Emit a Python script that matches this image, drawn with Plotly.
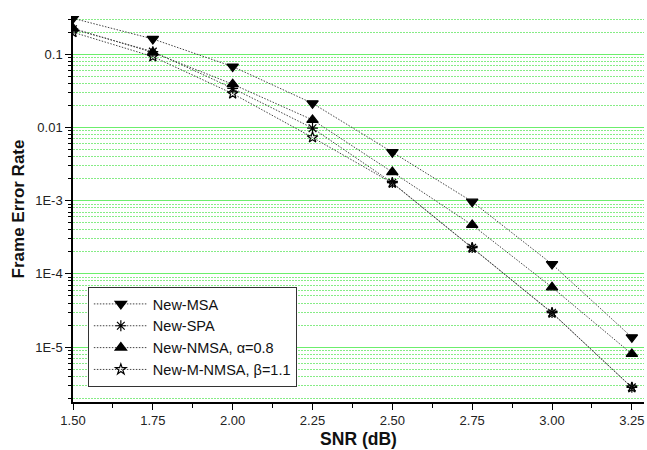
import plotly.graph_objects as go

snr = [1.50, 1.75, 2.00, 2.25, 2.50, 2.75, 3.00, 3.25]
msa = [0.31, 0.162, 0.068, 0.0214, 0.0046, 9.7e-4, 1.36e-4, 1.36e-5]
spa = [0.22, 0.109, 0.0343, 0.0098, 1.76e-3, 2.28e-4, 2.95e-5, 2.82e-6]
nmsa = [0.226, 0.106, 0.039, 0.0127, 2.46e-3, 4.66e-4, 6.56e-5, 8.05e-6]
mnmsa = [0.20, 0.093, 0.029, 0.0073, 1.74e-3, 2.26e-4, 2.93e-5, 2.80e-6]

names = ["New-MSA", "New-SPA", "New-NMSA, α=0.8", "New-M-NMSA, β=1.1"]
symbols = ["triangle-down", "asterisk-open", "triangle-up", "star-open"]
sizes = [10, 9, 10, 8]
series = [msa, spa, nmsa, mnmsa]

xticks = [1.50, 1.75, 2.00, 2.25, 2.50, 2.75, 3.00, 3.25]
xticklabels = ["1.50", "1.75", "2.00", "2.25", "2.50", "2.75", "3.00", "3.25"]
yticks = [0.1, 0.01, 1e-3, 1e-4, 1e-5]
yticklabels = ["0.1", "0.01", "1E-3", "1E-4", "1E-5"]

fig = go.Figure()
for i in range(4):
    fig.add_trace(go.Scatter(
        x=snr, y=series[i], name=names[i], mode="lines+markers",
        line=dict(color="#444444", width=1, dash="1.5px,1.5px"),
        marker=dict(symbol=symbols[i], size=sizes[i], color="black",
                    line=dict(color="black", width=1.2)),
    ))

axis_font = dict(family="Arial, Liberation Sans, sans-serif", size=13, color="#222222")
fig.update_layout(
    width=647, height=450,
    margin=dict(l=73, r=3, t=16, b=48),
    paper_bgcolor="white", plot_bgcolor="white",
    font=dict(family="Arial, Liberation Sans, sans-serif", color="#222222"),
    showlegend=True,
    legend=dict(x=0.026, y=0.298, xanchor="left", yanchor="top",
                bgcolor="white", bordercolor="#333333", borderwidth=1,
                font=dict(size=14.5, family="Arial, Liberation Sans, sans-serif", color="#111111"),
                tracegroupgap=0, itemwidth=54),
    xaxis=dict(range=[1.5, 3.288], tickvals=xticks, ticktext=xticklabels,
               ticks="outside", ticklen=6, tickcolor="black", showline=True,
               linecolor="black", linewidth=1.5, showgrid=False, zeroline=False,
               tickfont=axis_font, automargin=False, ticklabeloverflow="allow",
               minor=dict(dtick=0.125, tick0=1.5, ticks="outside", ticklen=4, tickcolor="black", showgrid=False),
               title=dict(text="<b>SNR (dB)</b>", font=dict(size=17.5, color="#111111"), standoff=5)),
    yaxis=dict(type="log", range=[-5.75, -0.477], tickvals=yticks, ticktext=yticklabels,
               ticks="outside", ticklen=6, tickcolor="black", showline=True,
               linecolor="black", linewidth=1.5, zeroline=False,
               showgrid=True, gridcolor="#6CEE6C", gridwidth=1,
               tickfont=axis_font, automargin=False,
               minor=dict(dtick="D1", ticks="outside", ticklen=3, tickcolor="black",
                          showgrid=True, gridcolor="#86EC86", gridwidth=1, griddash="1.5px,1.5px"),
               title=dict(text="<b>Frame Error Rate</b>", font=dict(size=17, color="#111111"), standoff=6)),
)

fig.write_html("out.html", config={"displayModeBar": False},
               post_script="document.body.style.margin='0';document.body.style.overflow='hidden';")
